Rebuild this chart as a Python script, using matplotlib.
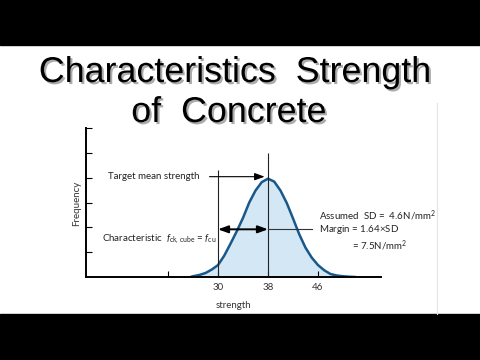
import matplotlib
matplotlib.use("Agg")
import matplotlib.pyplot as plt
import matplotlib.patheffects as pe
from matplotlib.patches import Rectangle

# values
strength = [25.6, 26, 27, 28, 29, 30, 31, 32, 33, 34, 35, 36, 37, 38,
            39, 40, 41, 42, 43, 44, 45, 46, 47, 48, 49, 50, 51, 52]
frequency = [0.0, 0.03, 0.08, 0.16, 0.30, 0.48, 0.86, 1.34, 1.84, 2.38, 3.0, 3.48, 3.82, 3.96,
             3.84, 3.48, 2.98, 2.36, 1.72, 1.18, 0.78, 0.48, 0.27, 0.12, 0.06, 0.03, 0.01, 0.0]
f_char = 30
f_mean = 38
xticks = [22, 30, 38, 46]
xticklabels = ["", "30", "38", "46"]
yticks = [1, 2, 3, 4, 5, 6]

W, H = 480, 360
plt.rcParams['font.family'] = ['Lato', 'DejaVu Sans']
plt.rcParams['mathtext.fontset'] = 'custom'
plt.rcParams['mathtext.rm'] = 'Lato'
plt.rcParams['mathtext.it'] = 'Lato:italic'

fig = plt.figure(figsize=(W/100, H/100), dpi=100)
fig.patch.set_facecolor("white")

def fx(px):
    return px/W
def fy(py):
    return 1 - py/H

# letterbox bars
fig.patches.append(Rectangle((0, fy(45)), 1, 45/H, transform=fig.transFigure, color="black", zorder=0))
fig.patches.append(Rectangle((0, 0), 1, fy(314), transform=fig.transFigure, color="black", zorder=0))
fig.add_artist(plt.Line2D([fx(437), fx(437)], [fy(103), fy(314)], transform=fig.transFigure,
                          color="#e4e4e4", lw=0.8))

# title
shadow = [pe.withSimplePatchShadow(offset=(1.5, -1.5), shadow_rgbFace="0.45", alpha=0.6)]
fig.text(fx(235), fy(82), "Characteristics  Strength", family="Liberation Sans", fontsize=25.8,
         ha="center", va="baseline", color="black", path_effects=shadow)
fig.text(fx(229), fy(122), "of  Concrete", family="Liberation Sans", fontsize=25.8,
         ha="center", va="baseline", color="black", path_effects=shadow)

# axes: x from 8.72 (px 86) to 55.92 (px 381); 6.25 px per unit, 30 at px 218
ax = fig.add_axes([fx(86), fy(277), (381-86)/W, (277-128)/H])
ax.set_xlim(30 - (218-86)/6.25, 30 + (381-218)/6.25)
ax.set_ylim(0, (277-128)/25)

ax.fill_between(strength, frequency, color="#d3e7f5", lw=0)
ax.plot(strength, frequency, color="#18588a", lw=1.8, solid_capstyle="round")

ax.vlines(f_char, 0, 4.32, color="#222222", lw=0.8)
ax.vlines(f_mean, 0, 5.0, color="#222222", lw=0.8)

# arrows
ax.annotate("", xy=(f_mean - 0.1, 4.04), xytext=(28.2, 4.04),
            arrowprops=dict(arrowstyle="-|>,head_length=0.6,head_width=0.22", color="black", lw=0.8))
ax.annotate("", xy=(f_mean, 1.92), xytext=(f_char, 1.92),
            arrowprops=dict(arrowstyle="<|-|>,head_length=0.6,head_width=0.22", color="black", lw=1.4,
                            shrinkA=0, shrinkB=0))
ax.plot([f_mean, 45.0], [1.92, 1.92], color="#333333", lw=0.8)

tc = "#222222"
ax.text(27.1, 4.04, "Target mean strength", ha="right", va="center", fontsize=7, color=tc)
ax.text(29.8, 1.52, r"Characteristic  $f_{\mathrm{ck,\,cube}}$ = $f_{\mathrm{cu}}$", ha="right",
        va="center", fontsize=7, color=tc)
ax.text(46.2, 2.48, r"Assumed  SD =  4.6N/mm$^2$", ha="left", va="center", fontsize=7, color=tc)
ax.text(46.2, 1.92, r"Margin = 1.64$\times$SD", ha="left", va="center", fontsize=7, color=tc)
ax.text(51.4, 1.28, r"= 7.5N/mm$^2$", ha="left", va="center", fontsize=7, color=tc)

for s in ["top", "right"]:
    ax.spines[s].set_visible(False)
for s in ["left", "bottom"]:
    ax.spines[s].set_linewidth(1.4)
ax.set_xticks(xticks)
ax.set_xticklabels(xticklabels)
ax.set_yticks(yticks)
ax.set_yticklabels([])
ax.tick_params(direction="in", length=4, width=0.8, labelsize=7, labelcolor="#333333", pad=4)
ax.set_xlabel("strength", fontsize=7, color="#333333", labelpad=7)
ax.set_ylabel("Frequency", fontsize=7, color="#333333", labelpad=2)
ax.yaxis.set_label_coords(-0.017, (277-203)/(277-128))

fig.savefig("out.png", dpi=100)
